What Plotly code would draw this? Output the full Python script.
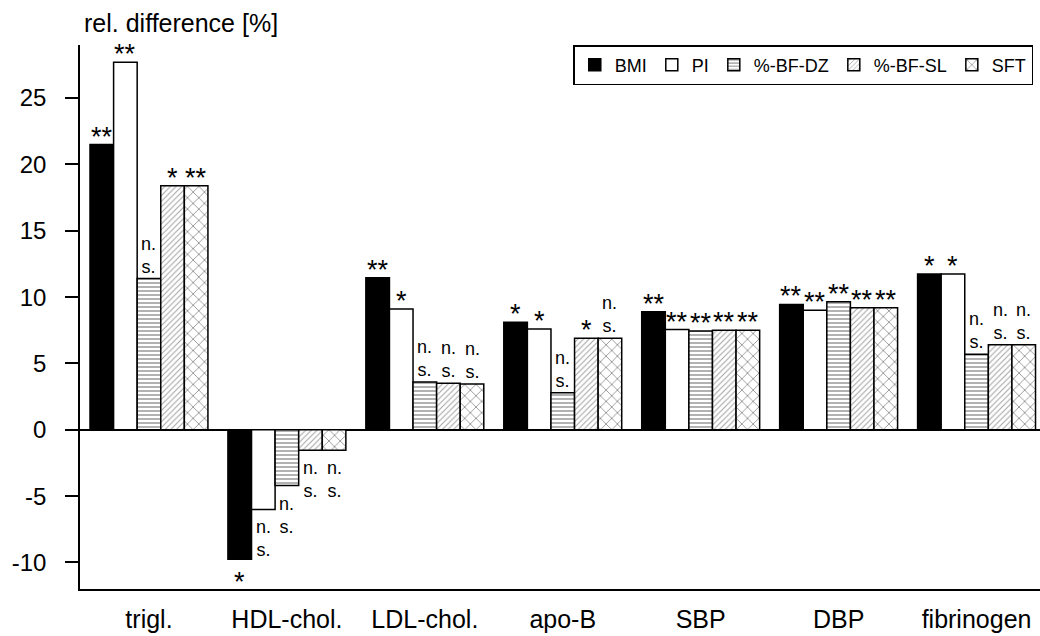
import plotly.graph_objects as go

categories = ["trigl.", "HDL-chol.", "LDL-chol.", "apo-B", "SBP", "DBP", "fibrinogen"]
series_names = ["BMI", "PI", "%-BF-DZ", "%-BF-SL", "SFT"]

bmi = [21.5, -9.75, 11.45, 8.1, 8.9, 9.45, 11.75]
pi = [27.7, -6.0, 9.1, 7.6, 7.55, 9.0, 11.75]
bf_dz = [11.4, -4.2, 3.6, 2.8, 7.45, 9.65, 5.7]
bf_sl = [18.4, -1.55, 3.5, 6.9, 7.5, 9.2, 6.4]
sft = [18.4, -1.55, 3.45, 6.9, 7.5, 9.2, 6.4]

sig_bmi = ["**", "*", "**", "*", "**", "**", "*"]
sig_pi = ["**", "n. s.", "*", "*", "**", "**", "*"]
sig_dz = ["n. s.", "n. s.", "n. s.", "n. s.", "**", "**", "n. s."]
sig_sl = ["*", "n. s.", "n. s.", "*", "**", "**", "n. s."]
sig_sft = ["**", "n. s.", "n. s.", "n. s.", "**", "**", "n. s."]

y_ticks = [-10, -5, 0, 5, 10, 15, 20, 25]

values = [bmi, pi, bf_dz, bf_sl, sft]
sigs = [sig_bmi, sig_pi, sig_dz, sig_sl, sig_sft]

FONT = "Liberation Sans, Arial, Helvetica, sans-serif"

styles = [
    dict(color="black", pattern=None),
    dict(color="white", pattern=None),
    dict(color="white", pattern=dict(shape="-", fgcolor="black", bgcolor="white", size=4, solidity=0.3, fillmode="overlay")),
    dict(color="white", pattern=dict(shape="/", fgcolor="#444", bgcolor="white", size=4, solidity=0.25, fillmode="overlay")),
    dict(color="white", pattern=dict(shape="x", fgcolor="black", bgcolor="white", size=8, solidity=0.18, fillmode="overlay")),
]

BARGAP = 0.145
fig = go.Figure()
for name, vals, st in zip(series_names, values, styles):
    marker = dict(color=st["color"], line=dict(color="black", width=1.5))
    if st["pattern"] is not None:
        marker["pattern"] = st["pattern"]
    fig.add_trace(go.Bar(name=name, x=categories, y=vals, marker=marker, hoverinfo="skip"))

n = len(series_names)
w = (1 - BARGAP) / n
annotations = []
for j, (vals, sg) in enumerate(zip(values, sigs)):
    for i, (v, s) in enumerate(zip(vals, sg)):
        xpos = i - (1 - BARGAP) / 2 + w * (j + 0.5)
        star = s.startswith("*")
        text = s if star else "n.<br>s."
        size = 27 if star else 18
        if v >= 0:
            yanchor = "bottom"
            yshift = -9 if star else 0
        else:
            yanchor = "top"
            yshift = -6
        annotations.append(dict(x=xpos, y=v, xref="x", yref="y", text=text,
                                showarrow=False, yanchor=yanchor, xanchor="center",
                                yshift=yshift, font=dict(size=size, color="black", family=FONT)))

annotations.append(dict(x=0.002, y=(589 - 23) / 544, xref="paper", yref="paper",
                        text="rel. difference [%]",
                        showarrow=False, xanchor="left", yanchor="middle",
                        font=dict(size=25, color="black", family=FONT)))

fig.update_layout(
    width=1040, height=636, autosize=False,
    margin=dict(l=80, r=0, t=45, b=47),
    paper_bgcolor="white", plot_bgcolor="white",
    barmode="group", bargap=BARGAP, bargroupgap=0,
    font=dict(family=FONT, color="black"),
    hovermode=False,
    showlegend=True,
    legend=dict(orientation="h", x=0.993, xanchor="right", y=(589 - 65) / 544, yanchor="middle",
                bordercolor="black", borderwidth=1.5, bgcolor="white",
                font=dict(size=18, family=FONT), itemwidth=30, tracegroupgap=0),
    annotations=annotations,
)

fig.update_xaxes(range=[-0.5, 6.46], showline=True, linecolor="black", linewidth=2,
                 ticks="", showgrid=False, zeroline=False,
                 tickfont=dict(size=25, family=FONT, color="black"), ticklabelstandoff=7)
fig.update_yaxes(range=[-12, 29], tickvals=y_ticks, ticktext=[str(t) for t in y_ticks],
                 showline=True, linecolor="black", linewidth=1.5, ticks="outside", ticklen=13,
                 tickwidth=1.5, tickcolor="black", showgrid=False,
                 zeroline=True, zerolinecolor="black", zerolinewidth=1.5,
                 tickfont=dict(size=24, family=FONT, color="black"), ticklabelstandoff=14)

fig.write_html("out.html", config={"displayModeBar": False},
               post_script="document.body.style.margin='0';")
